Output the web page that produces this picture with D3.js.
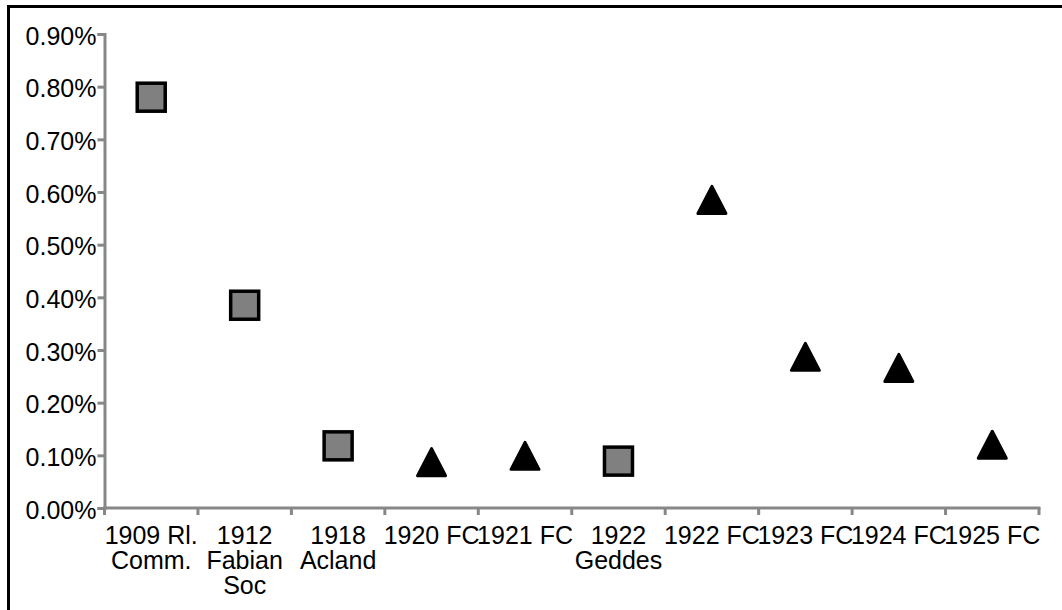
<!DOCTYPE html>
<html>
<head>
<meta charset="utf-8">
<script src="https://cdn.jsdelivr.net/npm/d3@7"></script>
<style>
  body { margin: 0; background: #fff; }
  text { font-family: "Liberation Sans", Arial, sans-serif; }
</style>
</head>
<body>
<svg></svg>
<script>
// categories (each label split into its lines)
let categories = [
    ["1909 Rl.", "Comm."],
    ["1912", "Fabian", "Soc"],
    ["1918", "Acland"],
    ["1920 FC"],
    ["1921 FC"],
    ["1922", "Geddes"],
    ["1922 FC"],
    ["1923 FC"],
    ["1924 FC"],
    ["1925 FC"]
]
// squares series and triangles series, in percent
let squareValues   = [0.78, 0.385, 0.118, null, null, 0.089, null, null, null, null]
let triangleValues = [null, null, null, 0.087, 0.099, null, 0.585, 0.287, 0.266, 0.12]
let yTicks = [0, 0.1, 0.2, 0.3, 0.4, 0.5, 0.6, 0.7, 0.8, 0.9]

let svgWidth = 1062,
    svgHeight = 610,
    plotLeft = 104.5, plotRight = 1039, plotTop = 34, plotBottom = 508

let svg = d3.select('svg')
    .attr('width', svgWidth)
    .attr('height', svgHeight)

// outer frame, only top and left visible
svg.append('rect')
    .attr('x', 8.5).attr('y', 6.5)
    .attr('width', svgWidth + 20).attr('height', svgHeight + 20)
    .attr('fill', 'none')
    .attr('stroke', '#000')
    .attr('stroke-width', 3)

let keys = categories.map((d, i) => i)

let x = d3.scaleBand()
    .domain(keys)
    .range([plotLeft, plotRight])

let y = d3.scaleLinear()
    .domain([0, 0.9])
    .range([plotBottom, plotTop])

let axisColor = '#878787'

// Y AXIS
let yAxis = svg.append('g')
    .attr('transform', `translate(${plotLeft}, 0)`)
    .call(d3.axisLeft(y)
        .tickValues(yTicks)
        .tickSize(7)
        .tickPadding(1)
        .tickFormat(d => d.toFixed(2) + '%'))
yAxis.select('.domain').attr('stroke', axisColor).attr('stroke-width', 3)
yAxis.selectAll('.tick line').attr('stroke', axisColor).attr('stroke-width', 3)
yAxis.selectAll('.tick text')
    .attr('fill', '#000')
    .style('font-size', '25px')
    .attr('dy', '0.4em')

// X AXIS, ticks sit on the band edges
let xAxis = svg.append('g')
xAxis.append('line')
    .attr('x1', plotLeft - 1.5).attr('x2', plotRight + 1.5)
    .attr('y1', plotBottom).attr('y2', plotBottom)
    .attr('stroke', axisColor).attr('stroke-width', 3)

let edges = keys.map(k => x(k)).concat([plotRight])
xAxis.selectAll('line.edge')
    .data(edges)
    .enter()
    .append('line')
    .attr('class', 'edge')
    .attr('x1', d => d).attr('x2', d => d)
    .attr('y1', plotBottom).attr('y2', plotBottom + 7)
    .attr('stroke', axisColor).attr('stroke-width', 3)

let labels = xAxis.selectAll('text.cat')
    .data(categories)
    .enter()
    .append('text')
    .attr('class', 'cat')
    .attr('text-anchor', 'middle')
    .style('font-size', '25px')
    .attr('fill', '#000')

labels.selectAll('tspan')
    .data((d, i) => d.map(line => ({line, i})))
    .enter()
    .append('tspan')
    .attr('x', d => x(d.i) + x.bandwidth() / 2)
    .attr('y', (d, j) => plotBottom + 36 + j * 25)
    .text(d => d.line)

// SQUARE MARKERS
let side = 28
svg.selectAll('rect.sq')
    .data(squareValues.map((v, i) => ({v, i})).filter(d => d.v != null))
    .enter()
    .append('rect')
    .attr('class', 'sq')
    .attr('x', d => x(d.i) + x.bandwidth() / 2 - side / 2)
    .attr('y', d => y(d.v) - side / 2)
    .attr('width', side).attr('height', side)
    .attr('fill', '#808080')
    .attr('stroke', '#000')
    .attr('stroke-width', 3.5)

// TRIANGLE MARKERS
let tw = 28, th = 27
svg.selectAll('path.tri')
    .data(triangleValues.map((v, i) => ({v, i})).filter(d => d.v != null))
    .enter()
    .append('path')
    .attr('class', 'tri')
    .attr('transform', d => `translate(${x(d.i) + x.bandwidth() / 2}, ${y(d.v)})`)
    .attr('d', `M0,${-th / 2}L${tw / 2},${th / 2}L${-tw / 2},${th / 2}Z`)
    .attr('fill', '#000')
    .attr('stroke', '#000')
    .attr('stroke-width', 3)
    .attr('stroke-linejoin', 'round')
</script>
</body>
</html>
